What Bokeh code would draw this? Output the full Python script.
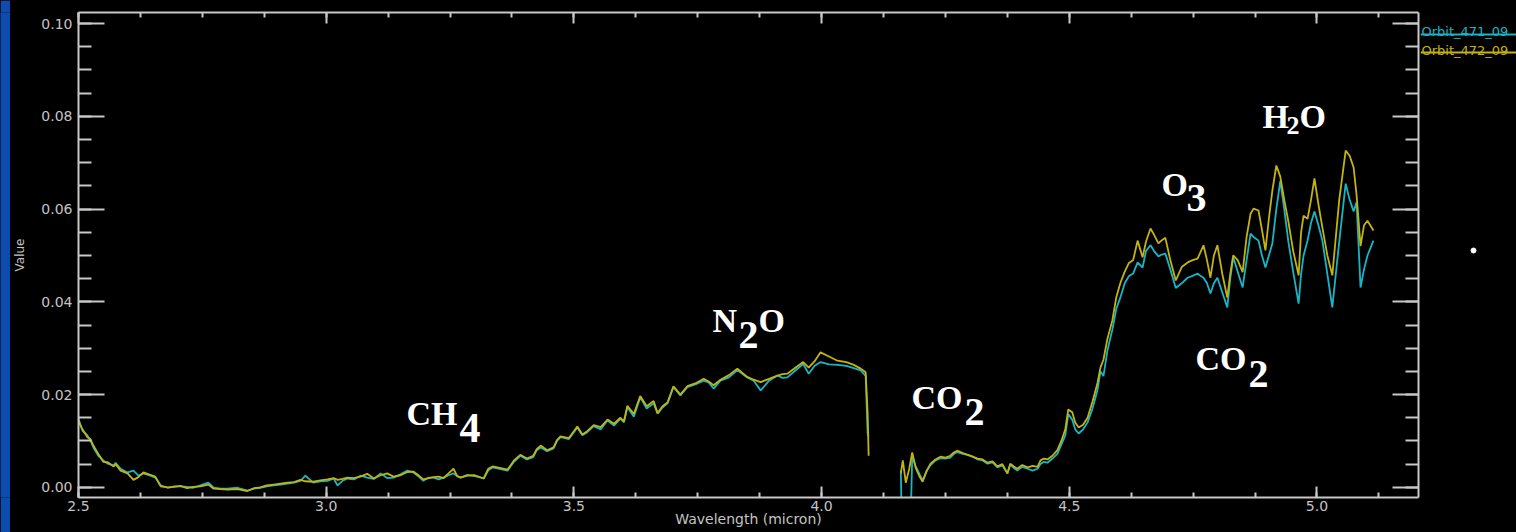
from bokeh.plotting import figure
from bokeh.models import (Range1d, LinearAxis, SingleIntervalTicker, NumeralTickFormatter,
                          Label, CustomJSTickFormatter)
from bokeh.layouts import row
from bokeh.core.properties import value
from bokeh.embed import file_html
from bokeh.resources import INLINE

# ---------------- data ----------------
series_names = ["Orbit_471_09", "Orbit_472_09"]

# band 1 (2.5 - 4.1 micron)
wl_band1 = [2.500, 2.508, 2.518, 2.524, 2.530, 2.540, 2.550, 2.559, 2.571, 2.575,
            2.585, 2.599, 2.611, 2.621, 2.631, 2.645, 2.655, 2.666, 2.680, 2.693,
            2.706, 2.719, 2.732, 2.746, 2.762, 2.773, 2.787, 2.801, 2.821, 2.841,
            2.854, 2.867, 2.880, 2.894, 2.908, 2.922, 2.935, 2.948, 2.958, 2.974,
            2.988, 3.003, 3.015, 3.023, 3.033, 3.043, 3.056, 3.069, 3.083, 3.096,
            3.110, 3.123, 3.136, 3.150, 3.164, 3.176, 3.186, 3.196, 3.207, 3.217,
            3.227, 3.237, 3.247, 3.257, 3.264, 3.271, 3.285, 3.300, 3.318, 3.327,
            3.336, 3.350, 3.366, 3.379, 3.392, 3.405, 3.418, 3.425, 3.433, 3.446,
            3.459, 3.466, 3.473, 3.490, 3.507, 3.517, 3.527, 3.540, 3.554, 3.568,
            3.581, 3.594, 3.601, 3.608, 3.621, 3.634, 3.647, 3.661, 3.669, 3.679,
            3.689, 3.701, 3.715, 3.729, 3.745, 3.762, 3.772, 3.782, 3.796, 3.813,
            3.830, 3.850, 3.863, 3.877, 3.894, 3.911, 3.921, 3.931, 3.947, 3.963,
            3.974, 3.986, 3.998, 4.015, 4.032, 4.050, 4.065, 4.079, 4.089, 4.093,
            4.095]

orbit471_band1 = [0.0148, 0.0122, 0.0112, 0.0101, 0.0086, 0.0068, 0.0058, 0.0051, 0.0047, 0.0053,
                  0.0040, 0.0032, 0.0036, 0.0025, 0.0030, 0.0025, 0.0021, 0.0004, -0.0001, 0.0002,
                  0.0002, 0.0001, -0.0001, 0.0004, 0.0010, -0.0001, -0.0003, -0.0003, -0.0001, -0.0007,
                  -0.0003, -0.0001, 0.0002, 0.0004, 0.0006, 0.0008, 0.0010, 0.0014, 0.0025, 0.0010,
                  0.0013, 0.0014, 0.0019, 0.0004, 0.0014, 0.0019, 0.0017, 0.0025, 0.0021, 0.0018,
                  0.0030, 0.0020, 0.0021, 0.0028, 0.0036, 0.0032, 0.0024, 0.0014, 0.0021, 0.0021,
                  0.0017, 0.0021, 0.0026, 0.0030, 0.0024, 0.0021, 0.0027, 0.0024, 0.0019, 0.0036,
                  0.0043, 0.0040, 0.0036, 0.0055, 0.0068, 0.0060, 0.0065, 0.0080, 0.0086, 0.0078,
                  0.0084, 0.0100, 0.0108, 0.0104, 0.0129, 0.0112, 0.0119, 0.0132, 0.0125, 0.0144,
                  0.0133, 0.0148, 0.0140, 0.0173, 0.0152, 0.0194, 0.0170, 0.0181, 0.0159, 0.0172,
                  0.0181, 0.0216, 0.0198, 0.0216, 0.0222, 0.0230, 0.0226, 0.0213, 0.0230, 0.0237,
                  0.0253, 0.0237, 0.0230, 0.0209, 0.0230, 0.0241, 0.0236, 0.0237, 0.0252, 0.0266,
                  0.0245, 0.0262, 0.0270, 0.0265, 0.0264, 0.0262, 0.0257, 0.0252, 0.0240, 0.0116,
                  0.0110]

orbit472_band1 = [0.0142, 0.0125, 0.0108, 0.0104, 0.0090, 0.0072, 0.0055, 0.0054, 0.0045, 0.0050,
                  0.0036, 0.0030, 0.0016, 0.0022, 0.0032, 0.0027, 0.0023, 0.0002, 0.0000, 0.0001,
                  0.0003, -0.0002, 0.0001, 0.0002, 0.0006, -0.0003, -0.0004, -0.0005, -0.0004, -0.0008,
                  -0.0002, 0.0000, 0.0004, 0.0006, 0.0008, 0.0010, 0.0011, 0.0016, 0.0013, 0.0012,
                  0.0015, 0.0017, 0.0020, 0.0016, 0.0018, 0.0021, 0.0020, 0.0023, 0.0029, 0.0019,
                  0.0026, 0.0030, 0.0023, 0.0026, 0.0033, 0.0034, 0.0026, 0.0017, 0.0020, 0.0022,
                  0.0023, 0.0020, 0.0030, 0.0040, 0.0025, 0.0021, 0.0025, 0.0026, 0.0019, 0.0040,
                  0.0045, 0.0042, 0.0038, 0.0058, 0.0070, 0.0062, 0.0068, 0.0082, 0.0090, 0.0080,
                  0.0086, 0.0102, 0.0110, 0.0106, 0.0131, 0.0114, 0.0121, 0.0134, 0.0130, 0.0146,
                  0.0137, 0.0150, 0.0142, 0.0176, 0.0158, 0.0197, 0.0175, 0.0186, 0.0160, 0.0175,
                  0.0183, 0.0218, 0.0200, 0.0218, 0.0224, 0.0234, 0.0228, 0.0220, 0.0232, 0.0242,
                  0.0256, 0.0238, 0.0232, 0.0227, 0.0234, 0.0241, 0.0244, 0.0245, 0.0258, 0.0270,
                  0.0258, 0.0272, 0.0291, 0.0282, 0.0273, 0.0270, 0.0264, 0.0256, 0.0248, 0.0160,
                  0.0068]

# band 2 (4.16 - 5.12 micron)
wl_band2 = [4.160, 4.164, 4.170, 4.177, 4.183, 4.190, 4.197, 4.204, 4.212, 4.220,
            4.230, 4.240, 4.250, 4.260, 4.267, 4.274, 4.285, 4.295, 4.305, 4.315,
            4.325, 4.335, 4.345, 4.355, 4.365, 4.375, 4.381, 4.388, 4.395, 4.405,
            4.416, 4.426, 4.436, 4.442, 4.449, 4.456, 4.466, 4.476, 4.484, 4.492,
            4.498, 4.506, 4.512, 4.519, 4.528, 4.537, 4.547, 4.557, 4.563, 4.569,
            4.577, 4.587, 4.595, 4.603, 4.612, 4.620, 4.629, 4.638, 4.648, 4.655,
            4.664, 4.671, 4.680, 4.687, 4.694, 4.704, 4.715, 4.727, 4.739, 4.749,
            4.759, 4.766, 4.771, 4.778, 4.785, 4.792, 4.799, 4.809, 4.819, 4.825,
            4.831, 4.840, 4.850, 4.858, 4.866, 4.872, 4.882, 4.889, 4.896, 4.903,
            4.910, 4.918, 4.926, 4.934, 4.942, 4.952, 4.963, 4.968, 4.973, 4.981,
            4.988, 4.995, 5.003, 5.011, 5.021, 5.031, 5.045, 5.058, 5.066, 5.074,
            5.080, 5.088, 5.095, 5.102, 5.114]

orbit471_band2 = [0.0036, -0.0200, -0.0200, -0.0200, 0.0068, 0.0045, 0.0030, 0.0015, 0.0035, 0.0048,
                  0.0058, 0.0063, 0.0062, 0.0064, 0.0072, 0.0076, 0.0072, 0.0070, 0.0066, 0.0060,
                  0.0058, 0.0051, 0.0054, 0.0043, 0.0047, 0.0030, 0.0049, 0.0042, 0.0036, 0.0044,
                  0.0040, 0.0036, 0.0040, 0.0050, 0.0055, 0.0053, 0.0062, 0.0072, 0.0092, 0.0112,
                  0.0158, 0.0146, 0.0125, 0.0116, 0.0125, 0.0140, 0.0170, 0.0210, 0.0250, 0.0240,
                  0.0295, 0.0340, 0.0385, 0.0409, 0.0440, 0.0455, 0.0461, 0.0485, 0.0474, 0.0510,
                  0.0522, 0.0510, 0.0498, 0.0502, 0.0504, 0.0470, 0.0430, 0.0440, 0.0452, 0.0456,
                  0.0461, 0.0455, 0.0452, 0.0440, 0.0418, 0.0440, 0.0452, 0.0420, 0.0388, 0.0450,
                  0.0496, 0.0465, 0.0431, 0.0490, 0.0547, 0.0540, 0.0532, 0.0500, 0.0474, 0.0500,
                  0.0526, 0.0600, 0.0661, 0.0600, 0.0532, 0.0465, 0.0396, 0.0460, 0.0500, 0.0532,
                  0.0570, 0.0595, 0.0565, 0.0532, 0.0460, 0.0388, 0.0530, 0.0655, 0.0620, 0.0595,
                  0.0615, 0.0431, 0.0470, 0.0500, 0.0532]

orbit472_band2 = [0.0030, 0.0058, 0.0010, 0.0040, 0.0075, 0.0042, 0.0025, 0.0012, 0.0035, 0.0051,
                  0.0060, 0.0066, 0.0064, 0.0068, 0.0075, 0.0079, 0.0074, 0.0070, 0.0066, 0.0062,
                  0.0060, 0.0053, 0.0056, 0.0045, 0.0050, 0.0030, 0.0051, 0.0045, 0.0040, 0.0048,
                  0.0043, 0.0046, 0.0044, 0.0058, 0.0062, 0.0060, 0.0068, 0.0080, 0.0100, 0.0125,
                  0.0168, 0.0162, 0.0140, 0.0129, 0.0135, 0.0150, 0.0185, 0.0225, 0.0258, 0.0275,
                  0.0320, 0.0360, 0.0410, 0.0440, 0.0465, 0.0483, 0.0490, 0.0532, 0.0496, 0.0530,
                  0.0558, 0.0545, 0.0526, 0.0533, 0.0538, 0.0490, 0.0446, 0.0475, 0.0485, 0.0490,
                  0.0493, 0.0510, 0.0522, 0.0490, 0.0452, 0.0500, 0.0522, 0.0460, 0.0409, 0.0460,
                  0.0500, 0.0490, 0.0464, 0.0540, 0.0590, 0.0601, 0.0597, 0.0555, 0.0511, 0.0580,
                  0.0640, 0.0694, 0.0670, 0.0620, 0.0575, 0.0510, 0.0457, 0.0550, 0.0586, 0.0579,
                  0.0620, 0.0666, 0.0610, 0.0560, 0.0500, 0.0457, 0.0620, 0.0726, 0.0715, 0.0690,
                  0.0630, 0.0520, 0.0565, 0.0575, 0.0554]

# ---------------- style ----------------
CYAN = "#17b6c6"
YELLOW = "#c4b40c"
AXIS = "#c8c8c8"
TICKTXT = "#c4c4c4"
BLUE = "#0b4cae"
H = 532
STRIP_W = 10
FRAME_TOP, FRAME_BOTTOM = 12, 497


# page-pixel -> data helpers (for annotation placement only)
def dx(px):
    return 2.5 + (px - 78) / 495.4


def dy(py):
    return (486.8 - py) / 4636.7


p = figure(frame_width=1340, frame_height=FRAME_BOTTOM - FRAME_TOP,
           x_range=Range1d(2.5, 5.205), y_range=Range1d(-0.0022, 0.1024),
           output_backend="svg", toolbar_location=None,
           x_axis_location=None, y_axis_location=None,
           background_fill_color="black", border_fill_color="black",
           outline_line_color=None,
           min_border_left=68, min_border_right=2, min_border_top=FRAME_TOP,
           min_border_bottom=H - FRAME_BOTTOM)
p.grid.grid_line_color = None


def make_axis(kind, show_labels, title=None):
    if kind == "x":
        ticker = SingleIntervalTicker(interval=0.5, num_minor_ticks=4)
        fmt = NumeralTickFormatter(format="0.0")
        mj, mn = 11, 5
    else:
        ticker = SingleIntervalTicker(interval=0.02, num_minor_ticks=4)
        fmt = NumeralTickFormatter(format="0.00")
        mj, mn = 26, 13
    if not show_labels:
        fmt = CustomJSTickFormatter(code="return ''")
    ax = LinearAxis(ticker=ticker, formatter=fmt,
                    major_tick_in=mj, major_tick_out=0,
                    minor_tick_in=mn, minor_tick_out=0,
                    axis_line_color=AXIS, axis_line_width=2,
                    major_tick_line_color=AXIS, major_tick_line_width=2,
                    minor_tick_line_color=AXIS, minor_tick_line_width=2,
                    major_label_text_color=TICKTXT,
                    major_label_text_font="DejaVu Sans",
                    major_label_text_font_size="14px" if show_labels else "0px",
                    major_label_standoff=(3 if kind == "x" else 6) if show_labels else 0)
    if title is not None:
        ax.axis_label = title
        ax.axis_label_text_color = TICKTXT
        ax.axis_label_text_font = "DejaVu Sans"
        ax.axis_label_text_font_style = "normal"
        if kind == "x":
            ax.axis_label_text_font_size = "14px"
            ax.axis_label_standoff = -3
        else:
            ax.axis_label_text_font_size = "12px"
            ax.axis_label_standoff = 11
    return ax


p.add_layout(make_axis("x", True, "Wavelength (micron)"), "below")
p.add_layout(make_axis("x", False), "above")
p.add_layout(make_axis("y", True, "Value"), "left")
p.add_layout(make_axis("y", False), "right")

# spectra
p.line(wl_band1, orbit471_band1, line_color=CYAN, line_width=1.8)
p.line(wl_band2, orbit471_band2, line_color=CYAN, line_width=1.8)
p.line(wl_band1, orbit472_band1, line_color=YELLOW, line_width=1.8)
p.line(wl_band2, orbit472_band2, line_color=YELLOW, line_width=1.8)

# molecule annotations: (text, left px, baseline px, font size) in page pixels
annotations = [
    ("CH", 406, 413, 34), ("4", 459, 428, 42),
    ("N", 712, 320, 34), ("2", 738, 335, 40), ("O", 758, 320, 34),
    ("CO", 911, 397, 34), ("2", 964, 412, 40),
    ("CO", 1195, 358, 34), ("2", 1248, 374, 40),
    ("O", 1161, 184, 34), ("3", 1186, 198, 40),
    ("H", 1262, 116, 34), ("2", 1286, 125, 26), ("O", 1299, 116, 34),
]
for txt, px, py, fs in annotations:
    p.add_layout(Label(x=dx(px), y=dy(py), text=txt, text_color="white",
                       text_font="Liberation Serif", text_font_style="bold",
                       text_font_size=f"{fs}px", text_align="left", text_baseline="alphabetic"))

# left blue strip
strip = figure(width=STRIP_W, height=H, output_backend="svg", toolbar_location=None,
               x_axis_location=None, y_axis_location=None,
               background_fill_color=BLUE, border_fill_color=BLUE,
               outline_line_color=None, min_border=0)
strip.grid.grid_line_color = None

# right side panel with legend (frame aligned with the main frame; y in page px, downwards)
SW = 96
side = figure(width=SW, height=H, x_range=Range1d(0, SW), y_range=Range1d(FRAME_BOTTOM, FRAME_TOP),
              output_backend="svg", toolbar_location=None,
              x_axis_location=None, y_axis_location=None,
              background_fill_color="black", border_fill_color="black",
              outline_line_color=None, min_border_left=0, min_border_right=0,
              min_border_top=FRAME_TOP, min_border_bottom=H - FRAME_BOTTOM)
side.grid.grid_line_color = None
side.text(x=[1, 1], y=[31, 50], text=series_names, text_color=[CYAN, YELLOW],
          text_font=value("DejaVu Sans"), text_font_size="13px",
          text_baseline="alphabetic", text_align="left")
side.segment(x0=[0, 0], y0=[34, 52], x1=[SW, SW], y1=[34, 52],
             line_color=[CYAN, YELLOW], line_width=2)
side.scatter(x=[53], y=[250], size=5, color="white")

layout = row(strip, p, side, spacing=0, styles={"background-color": "black"})

open("out.html", "w").write(file_html(layout, INLINE))
